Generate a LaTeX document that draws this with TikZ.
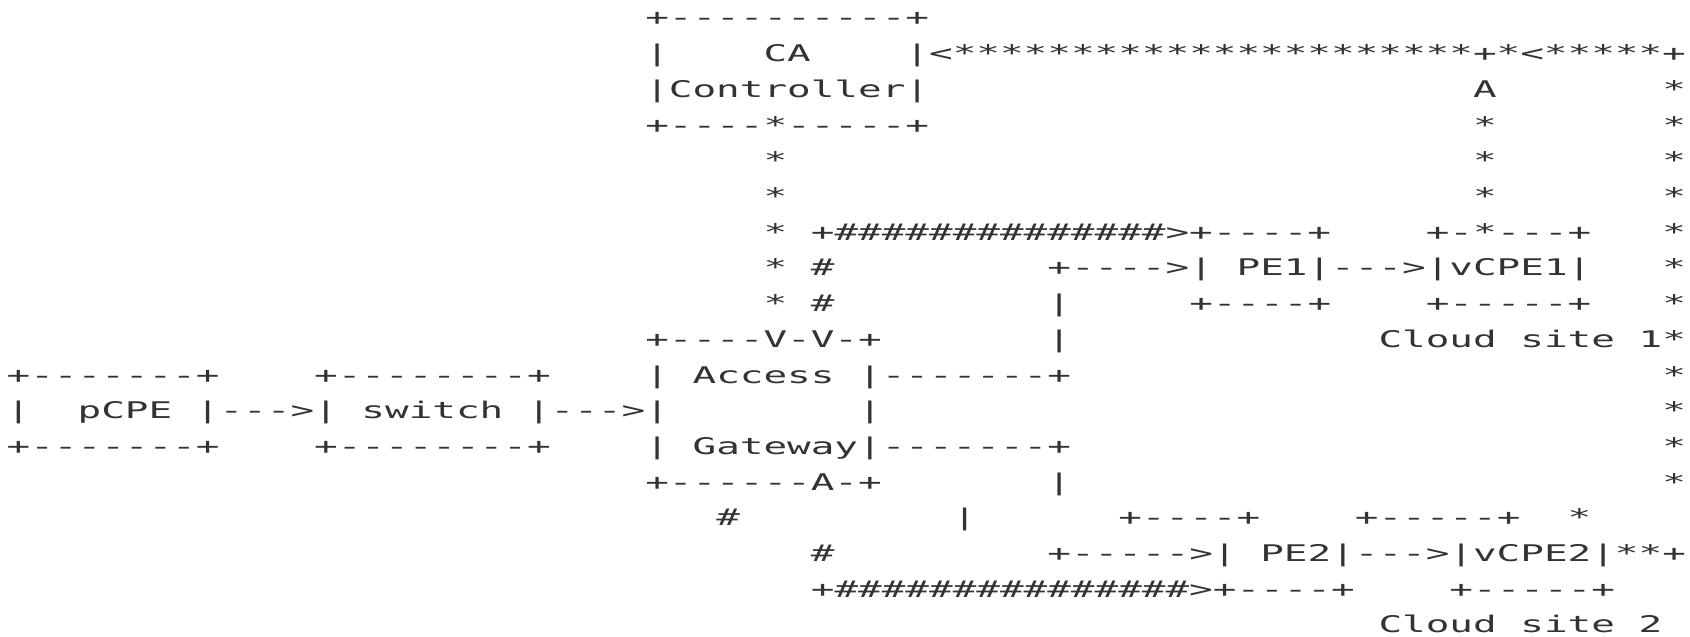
\documentclass[tikz,border=0pt]{standalone}
\usepackage{fontspec}
\setmonofont{DejaVu Sans Mono}[FakeStretch=1.713]
\usepackage{tikz}
\definecolor{ink}{HTML}{333333}
\newcommand{\hashrun}[1]{\foreach \k in {1,...,#1}{\#}}

\begin{document}
\begin{tikzpicture}[
    x=17.74pt, y=-26.78pt,
    cell/.style={anchor=base west, inner sep=0pt, outer sep=0pt, text=ink,
                 font=\ttfamily\fontsize{17.2pt}{20pt}\selectfont}
]
\useasboundingbox (-0.283,-0.728) rectangle (71.17,17.087);

% CA controller box
\node[cell] (caTop)  at (27,0) {+----------+};
\node[cell] (caSide) at (27,1) {|};
\node[cell] (caName) at (32,1) {CA};
\node[cell] (caFeed) at (38,1) {|<**********************+*<*****+};
\node[cell] (caCtl)  at (27,2) {|Controller|};
\node[cell] (caBot)  at (27,3) {+----*-----+};

% star links: controller down, vCPE1 up, loop on the right
\foreach \r in {4,...,8}
    \node[cell] (down\r) at (32,\r) {*};
\node[cell] (upTip) at (62,2) {A};
\foreach \r in {3,4,5}
    \node[cell] (up\r) at (62,\r) {*};
\foreach \r in {2,...,13}
    \node[cell] (loop\r) at (70,\r) {*};

% upper hash trunk towards PE1
\node[cell] (trunkA) at (34,6) {+\hashrun{14}>+----+};
\foreach \r in {7,8}
    \node[cell] (hashA\r) at (34,\r) {\#};

% cloud site 1
\node[cell] (vcpe1Top) at (60,6) {+-*---+};
\node[cell] (feedA)    at (44,7) {+---->|};
\node[cell] (pe1)      at (52,7) {PE1|--->|vCPE1|};
\node[cell] (feedA8)   at (44,8) {|};
\node[cell] (pe1Bot)   at (50,8) {+----+};
\node[cell] (vcpe1Bot) at (60,8) {+-----+};
\node[cell] (feedA9)   at (44,9) {|};
\node[cell] (siteA1)   at (58,9) {Cloud};
\node[cell] (siteA2)   at (64,9) {site};
\node[cell] (siteA3)   at (69,9) {1};

% access gateway
\node[cell] (agTop)  at (27,9)  {+----V-V-+};
\node[cell] (agL1)   at (27,10) {|};
\node[cell] (agName) at (29,10) {Access};
\node[cell] (agUp)   at (36,10) {|-------+};
\node[cell] (agR)    at (36,11) {|};
\node[cell] (agL2)   at (27,12) {|};
\node[cell] (agGw)   at (29,12) {Gateway|-------+};
\node[cell] (agBot)  at (27,13) {+------A-+};
\node[cell] (feedB)  at (44,13) {|};

% pCPE and switch
\node[cell] (pcpeTop) at (0,10)  {+-------+};
\node[cell] (swTop)   at (13,10) {+--------+};
\node[cell] (pcpeL)   at (0,11)  {|};
\node[cell] (pcpe)    at (3,11)  {pCPE};
\node[cell] (pcpeOut) at (8,11)  {|--->|};
\node[cell] (sw)      at (15,11) {switch};
\node[cell] (swOut)   at (22,11) {|--->|};
\node[cell] (pcpeBot) at (0,12)  {+-------+};
\node[cell] (swBot)   at (13,12) {+--------+};

% lower hash trunk and cloud site 2
\node[cell] (hashB14)  at (30,14) {\#};
\node[cell] (feedB14)  at (40,14) {|};
\node[cell] (pe2Top)   at (47,14) {+----+};
\node[cell] (vcpe2Top) at (57,14) {+-----+};
\node[cell] (loopB)    at (66,14) {*};
\node[cell] (hashB15)  at (34,15) {\#};
\node[cell] (feedB15)  at (44,15) {+----->|};
\node[cell] (pe2)      at (53,15) {PE2|--->|vCPE2|**+};
\node[cell] (trunkB)   at (34,16) {+\hashrun{15}>+----+};
\node[cell] (vcpe2Bot) at (61,16) {+-----+};
\node[cell] (siteB1)   at (58,17) {Cloud};
\node[cell] (siteB2)   at (64,17) {site};
\node[cell] (siteB3)   at (69,17) {2};

\end{tikzpicture}
\end{document}
